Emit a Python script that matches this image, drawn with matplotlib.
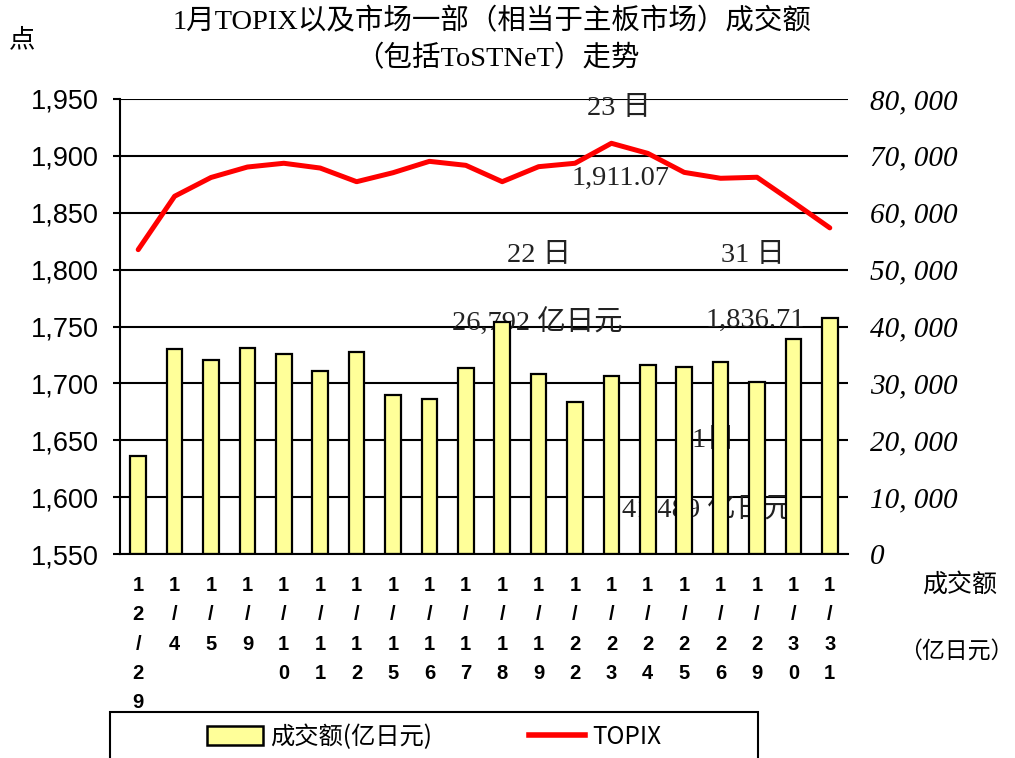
import matplotlib
matplotlib.use('Agg')
import matplotlib.pyplot as plt
from matplotlib.patches import Patch, Rectangle
from matplotlib.lines import Line2D

plt.rcParams['font.family'] = ['Liberation Sans', 'Noto Sans CJK SC', 'DejaVu Sans']

# data
dates = ['12/29', '1/4', '1/5', '1/9', '1/10', '1/11', '1/12', '1/15', '1/16', '1/17',
         '1/18', '1/19', '1/22', '1/23', '1/24', '1/25', '1/26', '1/29', '1/30', '1/31']
topix = [1817.56, 1864.5, 1881.0, 1890.2, 1893.5, 1889.3, 1877.3, 1885.2, 1895.2, 1891.7,
         1877.3, 1890.5, 1893.5, 1911.07, 1902.2, 1885.5, 1880.3, 1881.2, 1859.2, 1836.71]
volume = [17220, 36030, 34100, 36260, 35150, 32160, 35500, 28000, 27190, 32750,
          40830, 31580, 26792, 31340, 33160, 32860, 33690, 30290, 37840, 41489]
left_ticks = list(range(1550, 1951, 50))
right_ticks = list(range(0, 80001, 10000))

serif_cjk = ['Liberation Serif', 'Noto Sans CJK SC']

fig = plt.figure(figsize=(10.15, 7.58), dpi=100)
ax = fig.add_axes([120/1015, 1-554/758, 728/1015, 455/758])
ax2 = ax.twinx()

x = list(range(len(dates)))

# bars on the right (volume) axis
ax2.bar(x, volume, width=0.43, color='#FFFF99', edgecolor='black', linewidth=1.6, zorder=3)
ax2.set_ylim(0, 80000)
ax2.set_yticks(right_ticks)
ax2.set_yticklabels([f'{v:,}'.replace(',', ', ') for v in right_ticks],
                    fontsize=21, fontstyle='italic', family='Liberation Serif')
ax2.tick_params(axis='y', length=0, pad=16)
ax2.set_axisbelow(True)
ax2.yaxis.grid(True, color='black', linewidth=1.5, zorder=0)
for s in ['top', 'right', 'left', 'bottom']:
    ax2.spines[s].set_visible(False)

# annotations sit behind the bars
notes = [
    ('23 日', 13.21, 78400), ('1,911.07', 13.24, 66100),
    ('22 日', 11.01, 52400), ('26,792 亿日元', 10.98, 40600),
    ('31 日', 16.89, 52400), ('1,836.71', 16.94, 41150),
    ('31日', 15.63, 19870), ('41,489 亿日元', 15.63, 7740),
]
for t, tx, ty in notes:
    ax2.text(tx, ty, t, ha='center', va='center', fontsize=20.5, color='#222222',
             family=serif_cjk, zorder=1)

# TOPIX line on left axis, drawn above bars
ax.set_zorder(ax2.get_zorder() + 1)
ax.patch.set_visible(False)
ax.plot(x, topix, color='#FF0000', linewidth=3.6, solid_capstyle='round', zorder=5)
ax.set_ylim(1550, 1950)
ax.set_xlim(-0.5, len(dates) - 0.5)
ax.set_yticks(left_ticks)
ax.set_yticklabels([f'{v:,}' for v in left_ticks], fontsize=19.5)
ax.tick_params(axis='y', length=5, width=1.5, direction='out', pad=10)
ax.set_xticks(x)
ax.set_xticklabels(['\n'.join(d) for d in dates], fontsize=14.5, linespacing=1.68,
                   va='top', fontweight='bold')
ax.tick_params(axis='x', length=0, pad=16)
ax.spines['top'].set_visible(False)
ax.spines['right'].set_visible(False)
ax.spines['left'].set_linewidth(1.5)
ax.spines['bottom'].set_linewidth(1.5)

# titles and axis units
fig.text(492/1015, 1-22/758, '1月TOPIX以及市场一部（相当于主板市场）成交额',
         ha='center', va='center', fontsize=20.5, family=serif_cjk)
fig.text(497/1015, 1-59/758, '（包括ToSTNeT）走势',
         ha='center', va='center', fontsize=20.5, family=serif_cjk)
fig.text(22/1015, 1-40/758, '点', ha='center', va='center', fontsize=19,
         family=serif_cjk)
fig.text(960/1015, 1-585/758, '成交额', ha='center', va='center', fontsize=18,
         family=serif_cjk)
fig.text(956/1015, 1-652/758, '（亿日元）', ha='center', va='center', fontsize=16.5,
         family=serif_cjk)

# legend with a frame that runs past the bottom edge
fig.patches.append(Rectangle((110/1015, -0.05), 648/1015, 0.05 + 46/758,
                             transform=fig.transFigure, fill=False,
                             edgecolor='black', linewidth=1.5))
handles = [Patch(facecolor='#FFFF99', edgecolor='black', linewidth=1.8),
           Line2D([0], [0], color='#FF0000', linewidth=4)]
fig.legend(handles, ['成交额(亿日元)', 'TOPIX'], loc='center',
           bbox_to_anchor=(434/1015, 1-737/758), ncol=2, frameon=False,
           prop={'family': ['Noto Sans CJK SC'], 'size': 17.5},
           handlelength=2.3, handleheight=0.8, columnspacing=4.0, handletextpad=0.3)

fig.savefig('out.png', dpi=100)
